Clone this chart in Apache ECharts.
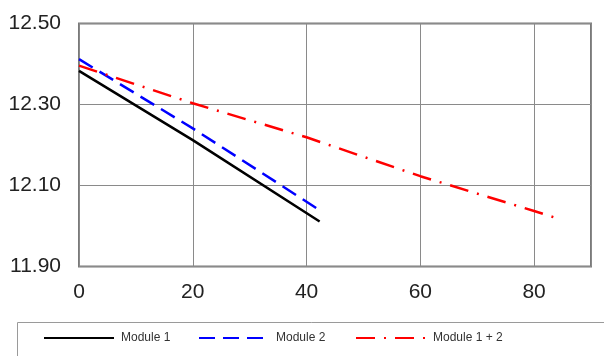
<!DOCTYPE html>
<html><head><meta charset="utf-8">
<script src="https://cdn.jsdelivr.net/npm/echarts@6/dist/echarts.min.js"></script>
<style>html,body{margin:0;padding:0;background:#fff}#c{width:604px;height:356px}</style>
</head><body><div id="c"></div>
<script>
const seriesNames = ['Module 1', 'Module 2', 'Module 1 + 2'];
const module1 = [[0, 12.383], [20, 12.212], [42.3, 12.011]];
const module2 = [[0, 12.412], [20, 12.241], [42.2, 12.040]];
const module12 = [[0, 12.396], [20, 12.303], [40, 12.219], [60, 12.123], [80, 12.037], [84.5, 12.017]];

const chart = echarts.init(document.getElementById('c'), null, {renderer: 'canvas'});
const font = 'Liberation Sans, Arial, sans-serif';
const gridColor = '#8a8a8a';
function legendAt(name, left) {
  return {
    data: [name], left: left, top: 332, itemWidth: 70, itemHeight: 14, itemGap: 0,
    itemStyle: {opacity: 0},
    textStyle: {fontFamily: font, fontSize: 12, color: '#333', padding: [0, 0, 0, 2]},
    padding: 0
  };
}
chart.setOption({
  animation: false,
  grid: {left: 79, right: 13, top: 23.5, bottom: 89.5, show: true, borderColor: '#7a7a7a', borderWidth: 2, containLabel: false},
  xAxis: {
    type: 'value', min: 0, max: 90, interval: 20,
    axisLine: {show: false}, axisTick: {show: false},
    splitLine: {show: true, lineStyle: {color: gridColor, width: 1}},
    axisLabel: {fontFamily: font, fontSize: 21, color: '#222', margin: 15, showMaxLabel: false}
  },
  yAxis: {
    type: 'value', min: 11.9, max: 12.5, interval: 0.2,
    axisLine: {show: false}, axisTick: {show: false},
    splitLine: {show: true, lineStyle: {color: gridColor, width: 1}},
    axisLabel: {fontFamily: font, fontSize: 21, color: '#222', margin: 18, formatter: v => v.toFixed(2)}
  },
  legend: [legendAt(seriesNames[0], 43), legendAt(seriesNames[1], 198), legendAt(seriesNames[2], 355)],
  graphic: [{type: 'rect', shape: {x: 17.5, y: 322.5, width: 620, height: 60}, style: {fill: 'none', stroke: '#9a9a9a', lineWidth: 1}}],
  series: [
    {name: seriesNames[0], type: 'line', data: module1, symbol: 'none', lineStyle: {color: '#000', width: 2.5}, itemStyle: {color: '#000'}},
    {name: seriesNames[1], type: 'line', data: module2, symbol: 'none', lineStyle: {color: '#0000ff', width: 2.5, type: [16, 8]}, itemStyle: {color: '#0000ff'}},
    {name: seriesNames[2], type: 'line', data: module12, symbol: 'none', lineStyle: {color: '#ff0000', width: 2.5, type: [19, 9, 2, 9]}, itemStyle: {color: '#ff0000'}}
  ]
});
</script></body></html>
